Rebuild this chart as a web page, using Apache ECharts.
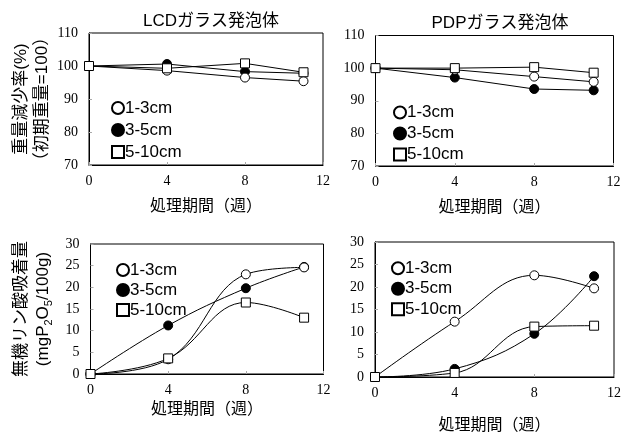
<!DOCTYPE html>
<html><head><meta charset="utf-8">
<script src="https://cdn.jsdelivr.net/npm/echarts@6/dist/echarts.min.js"></script>
<style>html,body{margin:0;padding:0;background:#fff}#c{width:625px;height:435px}</style>
</head><body><div id="c"></div>
<script>
var weeks = [0, 4, 8, 11];
var xTicks = [0, 4, 8, 12];
var sizeNames = ['1-3cm', '3-5cm', '5-10cm'];
var panelTitles = ['LCDガラス発泡体', 'PDPガラス発泡体'];
var xAxisName = '処理期間（週）';
// Weight retention (%) - top row
var lcdWeight13 = [100, 98.6, 96.5, 95.4];
var lcdWeight35 = [100, 100.6, 98.3, 97.8];
var lcdWeight510 = [100, 99.3, 100.8, 98.1];
var pdpWeight13 = [100, 99.5, 97.4, 95.8];
var pdpWeight35 = [100, 97.1, 93.6, 93.2];
var pdpWeight510 = [100, 100.0, 100.3, 98.6];
// Phosphate adsorption (mgP2O5/100g) - bottom row
var lcdP13 = [0, 3.4, 23.0, 24.6];
var lcdP35 = [0, 11.2, 19.8, 24.7];
var lcdP510 = [0, 3.6, 16.5, 13.0];
var pdpP13 = [0, 12.3, 22.6, 19.7];
var pdpP35 = [0, 1.8, 9.6, 22.4];
var pdpP510 = [0, 0.9, 11.2, 11.4];

var SANS = '"Liberation Sans", "Noto Sans CJK JP", sans-serif';
var SERIF = '"Liberation Serif", "Noto Serif", serif';

function pairs(v) { return weeks.map(function (w, i) { return [w, v[i]]; }); }

var grids = [
  {left: 89, top: 33, width: 234, height: 132},
  {left: 375.5, top: 35.5, width: 238, height: 130.5},
  {left: 90.5, top: 244, width: 233, height: 130},
  {left: 375, top: 242, width: 239, height: 136}
];
grids.forEach(function (g) { g.show = true; g.borderColor = '#000'; g.borderWidth = 1; g.backgroundColor = 'transparent'; });

var xNameGaps = [34, 34, 28, 41];
var xAxes = grids.map(function (g, i) {
  return {
    gridIndex: i, type: 'value', min: 0, max: 12, interval: 4,
    name: xAxisName, nameLocation: 'middle', nameGap: xNameGaps[i],
    nameTextStyle: {fontFamily: SANS, fontSize: 16, color: '#000'},
    axisLine: {show: true, lineStyle: {color: '#000', width: 1}},
    axisTick: {show: true, inside: true, length: 3, lineStyle: {color: '#aaa'}},
    axisLabel: {fontFamily: SERIF, fontSize: 14, color: '#000', margin: 9},
    splitLine: {show: false}
  };
});

var yAxes = grids.map(function (g, i) {
  var top = i < 2;
  var ax = {
    gridIndex: i, type: 'value',
    min: top ? 70 : 0, max: top ? 110 : 30, interval: top ? 10 : 5,
    axisLine: {show: true, lineStyle: {color: '#000', width: 1}},
    axisTick: {show: true, inside: true, length: 3, lineStyle: {color: '#aaa'}},
    axisLabel: {fontFamily: SERIF, fontSize: 14, color: '#000', margin: 11},
    splitLine: {show: false}
  };
  if (i === 0) {
    ax.name = '重量減少率(%)\n（初期重量=100）';
    ax.nameLocation = 'middle'; ax.nameRotate = 90; ax.nameGap = 36;
    ax.nameTextStyle = {fontFamily: SANS, fontSize: 17, color: '#000', lineHeight: 21};
  }
  if (i === 2) {
    ax.name = '無機リン酸吸着量\n(mgP{s|2}O{s|5}/100g)';
    ax.nameLocation = 'middle'; ax.nameRotate = 90; ax.nameGap = 36;
    ax.nameTextStyle = {fontFamily: SANS, fontSize: 17, color: '#000', lineHeight: 22,
      rich: {s: {fontFamily: SANS, fontSize: 11, color: '#000', verticalAlign: 'bottom', lineHeight: 12}}};
  }
  return ax;
});

var styles = [
  {symbol: 'circle', color: '#fff', z: 3},
  {symbol: 'circle', color: '#000', z: 2},
  {symbol: 'rect', color: '#fff', z: 4}
];
var panelData = [
  [lcdWeight13, lcdWeight35, lcdWeight510],
  [pdpWeight13, pdpWeight35, pdpWeight510],
  [lcdP13, lcdP35, lcdP510],
  [pdpP13, pdpP35, pdpP510]
];
var series = [];
panelData.forEach(function (arrs, p) {
  arrs.forEach(function (vals, k) {
    series.push({
      type: 'line', name: sizeNames[k], xAxisIndex: p, yAxisIndex: p,
      data: pairs(vals), smooth: p >= 2 ? 0.4 : false,
      symbol: styles[k].symbol, symbolSize: 9, z: styles[k].z,
      lineStyle: {color: '#000', width: 1},
      itemStyle: {color: styles[k].color, borderColor: '#000', borderWidth: 1},
      emphasis: {disabled: true}, animation: false
    });
  });
});

var legendPos = [
  {left: 106, top: 92, lh: 22},
  {left: 388, top: 97, lh: 21},
  {left: 111, top: 255, lh: 20},
  {left: 386, top: 253, lh: 20.5}
];
var legends = legendPos.map(function (lp) {
  return {
    left: lp.left, top: lp.top, orient: 'vertical', itemGap: 0,
    itemWidth: 12, itemHeight: 12, selectedMode: false,
    data: [{name: sizeNames[0], icon: 'circle'}, {name: sizeNames[1], icon: 'circle'}, {name: sizeNames[2], icon: 'rect'}],
    textStyle: {fontFamily: SANS, fontSize: 17, color: '#000', lineHeight: lp.lh, padding: [0, 0, 0, -4]}
  };
});

var titles = [
  {text: panelTitles[0], left: 206, top: 8},
  {text: panelTitles[1], left: 495, top: 10}
].map(function (t) {
  t.textAlign = 'center';
  t.textStyle = {fontFamily: SANS, fontSize: 17, fontWeight: 'normal', color: '#000'};
  return t;
});

var chart = echarts.init(document.getElementById('c'), null, {renderer: 'canvas'});
chart.setOption({
  animation: false,
  backgroundColor: '#fff',
  title: titles,
  grid: grids,
  xAxis: xAxes,
  yAxis: yAxes,
  legend: legends,
  series: series
});
</script>
</body></html>
